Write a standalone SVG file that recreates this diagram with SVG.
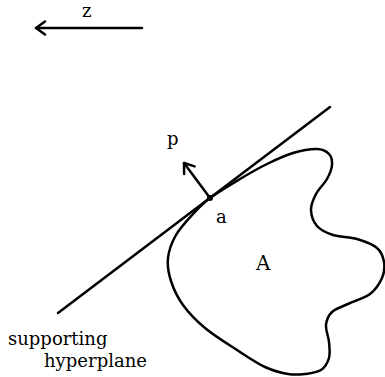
<svg xmlns="http://www.w3.org/2000/svg" width="385" height="377" viewBox="0 0 385 377">
<style>
.ln{fill:none;stroke:#000;stroke-width:2.5;stroke-linecap:round;stroke-linejoin:round}
.lbl{font-family:"DejaVu Serif","Liberation Serif",serif;font-size:18px;fill:#000}
</style>
<defs>
<marker id="head" markerUnits="userSpaceOnUse" orient="auto" refX="0" refY="0" markerWidth="20" markerHeight="20" viewBox="-12 -10 14 20" overflow="visible">
<path d="M-9,-6.5 L0,0 L-9,6.5" fill="none" stroke="#000" stroke-width="2.5" stroke-linecap="round" stroke-linejoin="round"/>
</marker>
</defs>
<g id="z-vector">
<line class="ln" x1="142" y1="28" x2="36" y2="28" marker-end="url(#head)"/>
<text class="lbl" x="82" y="17">z</text>
</g>
<g id="set-A">
<path class="ln" d="M210,198 C217.83,192.17 230.5,184.67 240,179 C249.5,173.33 258.17,168.33 267,164 C275.83,159.67 284.67,155.5 293,153 C301.33,150.5 311,148.83 317,149 C323,149.17 326.5,151.33 329,154 C331.5,156.67 332.33,160.83 332,165 C331.67,169.17 329.67,174.17 327,179 C324.33,183.83 318.67,188.83 316,194 C313.33,199.17 310.83,204.67 311,210 C311.17,215.33 313.33,221.83 317,226 C320.67,230.17 326.33,232.83 333,235 C339.67,237.17 349.67,236.83 357,239 C364.33,241.17 372.5,244.17 377,248 C381.5,251.83 383.17,257 384,262 C384.83,267 384.33,272.67 382,278 C379.67,283.33 375.67,289.67 370,294 C364.33,298.33 354.33,301 348,304 C341.67,307 335.67,308.5 332,312 C328.33,315.5 326.5,320 326,325 C325.5,330 328.5,336.5 329,342 C329.5,347.5 330.33,353.33 329,358 C327.67,362.67 325,367.33 321,370 C317,372.67 310.5,373.33 305,374 C299.5,374.67 294.67,375.17 288,374 C281.33,372.83 273.5,371 265,367 C256.5,363 247,356.5 237,350 C227,343.5 214,335.5 205,328 C196,320.5 188.67,312.83 183,305 C177.33,297.17 173.5,288.83 171,281 C168.5,273.17 167.17,265.67 168,258 C168.83,250.33 171.83,242.33 176,235 C180.17,227.67 187.33,220.17 193,214 C198.67,207.83 202.17,203.83 210,198 Z"/>
<text class="lbl" x="256" y="270" style="font-size:20px">A</text>
</g>
<g id="hyperplane">
<line class="ln" x1="58" y1="313" x2="330" y2="107"/>
<text class="lbl" x="8" y="345">supporting</text>
<text class="lbl" x="44" y="367" textLength="103">hyperplane</text>
</g>
<g id="point-a">
<circle cx="210" cy="198" r="3" fill="#000"/>
<text class="lbl" x="216" y="223">a</text>
</g>
<g id="p-vector">
<line class="ln" x1="210" y1="198" x2="184" y2="163" marker-end="url(#head)"/>
<text class="lbl" x="167" y="145">p</text>
</g>
</svg>
